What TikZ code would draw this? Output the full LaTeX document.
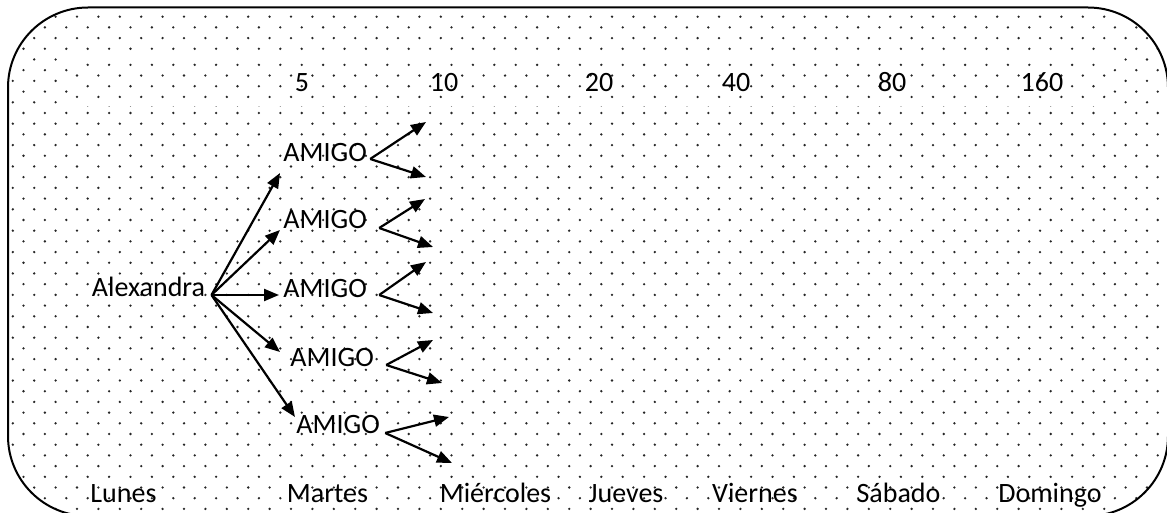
\documentclass[tikz,border=0pt]{standalone}
\usepackage{fontspec}
\setmainfont{Carlito}
\usetikzlibrary{arrows.meta}
\begin{document}
\begin{tikzpicture}[x=0.5pt, y=-0.5pt,
	txt/.style={inner sep=0pt, text=black, font=\fontsize{14}{17}\selectfont},
	arr/.style={line width=1.1pt, -{Triangle[length=7.5pt,width=6pt]}},
	dotc/.style={fill=black!85}]
\useasboundingbox (0,0) rectangle (1167,513);

% dotted background inside the rounded box
\begin{scope}
	\clip[rounded corners=40pt] (8,7.5) rectangle (1168,516);
	\foreach \k in {0,...,47} {
		\pgfmathsetmacro\yy{16.7+\k*10.7}
		\pgfmathsetmacro\xo{ifthenelse(mod(\k,2)==0,12.8,2.1)}
		\foreach \j in {0,...,54}
			\fill[dotc] (\xo+\j*21.4,\yy) circle[radius=1.3];
	}
\end{scope}
% text box of the numbers, its dots shifted
\begin{scope}
	\clip (73,58) rectangle (1110,107);
	\fill[white] (73,58) rectangle (1110,107);
	\foreach \k in {3,...,9} {
		\pgfmathsetmacro\yy{22.05+\k*10.7}
		\pgfmathsetmacro\xo{ifthenelse(mod(\k,2)==0,23.5,12.8)}
		\foreach \j in {0,...,52}
			\fill[dotc] (\xo+\j*21.4,\yy) circle[radius=1.3];
	}
\end{scope}
\draw[line width=1pt, rounded corners=40pt] (8,7.5) rectangle (1168,516);

% numbers
\node[txt, anchor=base] (n5) at (302,92) {5};
\node[txt, anchor=base] (n10) at (444,92) {10};
\node[txt, anchor=base] (n20) at (599,92) {20};
\node[txt, anchor=base] (n40) at (736,92) {40};
\node[txt, anchor=base] (n80) at (892,92) {80};
\node[txt, anchor=base] (n160) at (1042,92) {160};

% days
\node[txt, anchor=base] (lunes) at (123.5,502) {Lunes};
\node[txt, anchor=base] (martes) at (327.5,502) {Martes};
\node[txt, anchor=base] (miercoles) at (495.5,502) {Miércoles};
\node[txt, anchor=base] (jueves) at (626,502) {Jueves};
\node[txt, anchor=base] (viernes) at (755,502) {Viernes};
\node[txt, anchor=base] (sabado) at (898.5,502) {Sábado};
\node[txt, anchor=base] (domingo) at (1050,502) {Domingo};

% Alexandra and her friends
\node[txt, anchor=base] (alex) at (148.5,297) {Alexandra};
\node[txt, anchor=base west] (a1) at (283,162) {AMIGO};
\node[txt, anchor=base west] (a2) at (283,229) {AMIGO};
\node[txt, anchor=base west] (a3) at (283,298) {AMIGO};
\node[txt, anchor=base west] (a4) at (290,366) {AMIGO};
\node[txt, anchor=base west] (a5) at (296,433) {AMIGO};

\draw[arr] ([xshift=3pt,yshift=1pt]alex.base east) -- ([xshift=-1.5pt,yshift=-5.5pt]a1.base west);
\draw[arr] ([xshift=3pt,yshift=1pt]alex.base east) -- ([xshift=-1.5pt,yshift=-0.5pt]a2.base west);
\draw[arr] ([xshift=3pt,yshift=1pt]alex.base east) -- ([xshift=-2pt,yshift=1.5pt]a3.base west);
\draw[arr] ([xshift=3pt,yshift=1pt]alex.base east) -- ([xshift=-5pt,yshift=7pt]a4.base west);
\draw[arr] ([xshift=3pt,yshift=1pt]alex.base east) -- ([xshift=-0.5pt,yshift=8pt]a5.base west);

% ends of the second arrows
\coordinate (t11) at (426,122);
\coordinate (t12) at (426,177);
\coordinate (t21) at (425,199);
\coordinate (t22) at (433,247);
\coordinate (t31) at (426,262);
\coordinate (t32) at (433,313);
\coordinate (t41) at (433,340);
\coordinate (t42) at (442,383);
\coordinate (t51) at (449,417);
\coordinate (t52) at (452,463);

\foreach \i/\dx/\dy in {1/1.5/1.5, 2/6/0.5, 3/6/1.5, 4/6/0.5, 5/2.5/0} {
	\draw[arr] ([xshift=\dx pt,yshift=\dy pt]a\i.base east) -- (t\i1);
	\draw[arr] ([xshift=\dx pt,yshift=\dy pt]a\i.base east) -- (t\i2);
}
\end{tikzpicture}
\end{document}
